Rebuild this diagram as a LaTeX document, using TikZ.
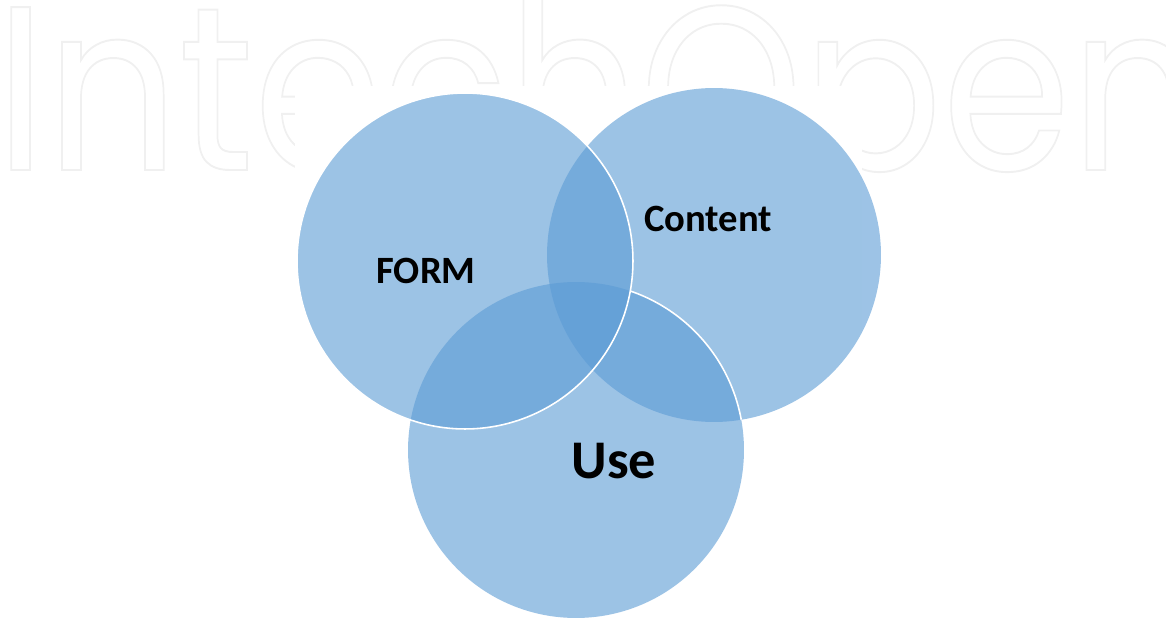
\documentclass[tikz,border=0pt]{standalone}
\usepackage{fontspec}
\setmainfont{Carlito}
\newfontfamily\markfont{Poppins}
\definecolor{accent}{HTML}{5B9BD5}
\newcommand{\outlined}[1]{\special{pdf:literal direct 1 Tr 1.1 w}#1\special{pdf:literal direct 0 Tr}}

\begin{document}
\begin{tikzpicture}[x=0.02cm,y=-0.02cm]
                \useasboundingbox (0,0) rectangle (1166,618);
                % watermark
                \node[anchor=base west,inner sep=0pt,text=black!6,xscale=0.885] (mark) at (-5,170)
                    {\fontsize{133}{133}\markfont\outlined{IntechOpen}};
                \fill[white] (295,86) rectangle (862,618);
                % circles
                \fill[accent,fill opacity=0.6] (465,261) circle[radius=3.36cm];
                \fill[accent,fill opacity=0.6] (714,255) circle[radius=3.34cm];
                \fill[accent,fill opacity=0.6] (576,450) circle[radius=3.36cm];
                \draw[white,line width=0.9pt] (465,261) circle[radius=3.36cm];
                \begin{scope}
                    \clip (714,255) circle[radius=3.34cm];
                    \begin{scope}[even odd rule]
                        \clip (0,0) rectangle (1166,618) (465,261) circle[radius=3.36cm];
                        \draw[white,line width=0.9pt] (576,450) circle[radius=3.36cm];
                    \end{scope}
                \end{scope}
                % labels
                \node[anchor=base,inner sep=0pt] (form) at (426,283) {\fontsize{22}{26}\selectfont\bfseries FORM};
                \node[anchor=base,inner sep=0pt] (content) at (708,232) {\fontsize{22}{26}\selectfont\bfseries Content};
                \node[anchor=base,inner sep=0pt] (use) at (614,478) {\fontsize{31}{36}\selectfont\bfseries Use};
\end{tikzpicture}
\end{document}
